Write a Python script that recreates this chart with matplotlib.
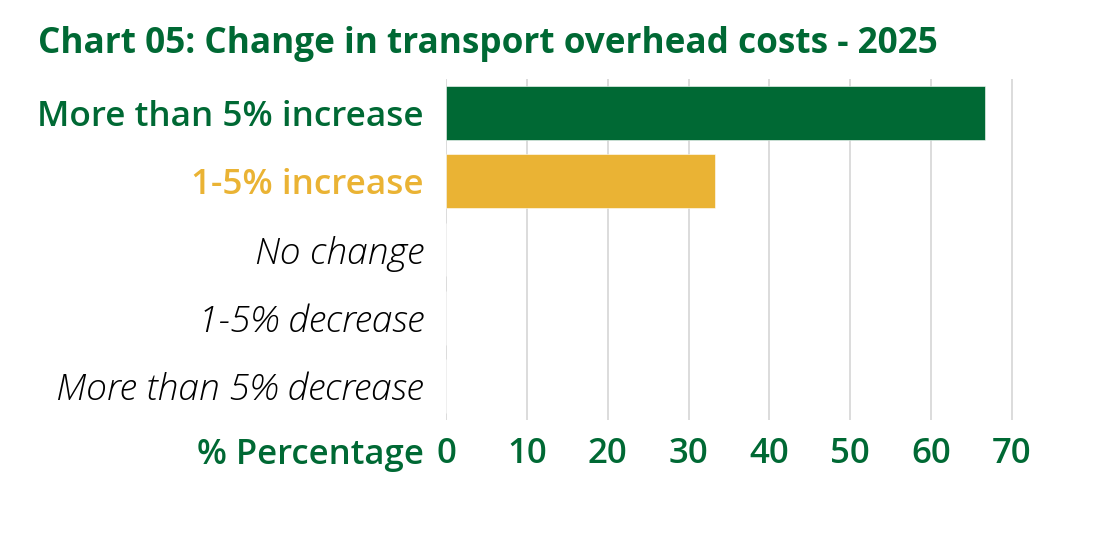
import matplotlib
matplotlib.use('Agg')
import matplotlib.pyplot as plt

plt.rcParams['font.family'] = ['Open Sans', 'DejaVu Sans']

# 数据
categories = ['More than 5% increase', '1-5% increase', 'No change',
              '1-5% decrease', 'More than 5% decrease']
values = [66.7, 33.3, 0, 0, 0]
ticks = [0, 10, 20, 30, 40, 50, 60, 70]
title = 'Chart 05: Change in transport overhead costs - 2025'
xlabel = '% Percentage'

GREEN = '#006934'
GOLD = '#EAB334'
bar_colors = [GREEN, GOLD, GOLD, GOLD, GOLD]
label_colors = [GREEN, GOLD, 'black', 'black', 'black']

fig = plt.figure(figsize=(11, 5.34), dpi=100, facecolor='white')
ax = fig.add_axes([446 / 1100, 1 - 420 / 534, 574 / 1100, 341 / 534])

y = list(range(len(categories)))
ax.barh(y, values, height=0.79, color=bar_colors, zorder=2,
        edgecolor='white', linewidth=0.4)

ax.set_xlim(0, 71)
ax.set_ylim(len(categories) - 0.5, -0.5)
ax.set_xticks(ticks)
ax.set_xticklabels([str(t) for t in ticks])
ax.set_yticks(y)
ax.set_yticklabels(categories)

ax.grid(axis='x', color='#d9d9d9', linewidth=1.3, zorder=0)
ax.grid(axis='y', visible=False)
for s in ax.spines.values():
    s.set_visible(False)

ax.tick_params(axis='x', length=0, pad=12, labelsize=25, labelcolor=GREEN)
ax.tick_params(axis='y', length=0, pad=16, labelsize=25)
for lab in ax.get_xticklabels():
    lab.set_fontweight('semibold')
for lab, c in zip(ax.get_yticklabels(), label_colors):
    lab.set_color(c)
    if c == 'black':
        lab.set_fontstyle('italic')
        lab.set_fontweight('light')
        lab.set_fontsize(26.8)
    else:
        lab.set_fontweight('semibold')
        lab.set_fontsize(25.3)

fig.text(38 / 1100, 1 - 44 / 534, title, ha='left', va='center',
         fontsize=25.3, fontweight='bold', color=GREEN)
fig.text(424 / 1100, 1 - 455 / 534, xlabel, ha='right', va='center',
         fontsize=25, fontweight='semibold', color=GREEN)

fig.savefig('out.png', dpi=100, facecolor='white')
